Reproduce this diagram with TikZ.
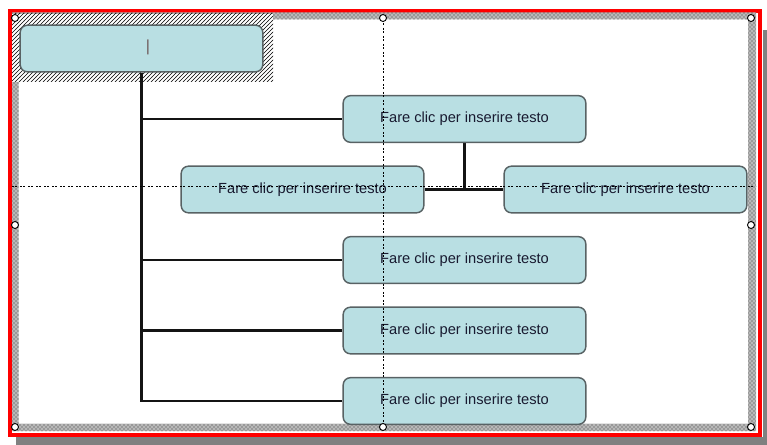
\documentclass[tikz,border=0pt]{standalone}
\usepackage{fontspec}
\setmainfont{Liberation Sans}
\usetikzlibrary{patterns}
\pgfdeclarelayer{back}
\pgfdeclarelayer{links}
\pgfsetlayers{back,links,main}

\begin{document}
\begin{tikzpicture}[x=0.75pt,y=0.75pt,yscale=-1,xscale=1,
  orgbox/.style={draw={rgb, 255:red, 88; green, 98; blue, 100 }, line width=1.1pt,
    fill={rgb, 255:red, 185; green, 223; blue, 227 }, rounded corners=5.5pt,
    minimum width=182pt, minimum height=35pt, inner sep=0pt,
    text={rgb, 255:red, 24; green, 26; blue, 48 }, font=\fontsize{11}{13}\selectfont},
  link/.style={draw={rgb, 255:red, 20; green, 20; blue, 20 }, line width=1.9pt},
  guide/.style={draw=black, line width=0.6pt, dash pattern=on 1.2pt off 1.2pt on 1.2pt off 2.4pt},
  handle/.style={draw=black, fill=white, line width=0.7pt}]
\useasboundingbox (0,0) rectangle (767,445);

\begin{pgfonlayer}{back}
%Shadow of the frame
\fill [color={rgb, 255:red, 128; green, 128; blue, 128 }] (16,437) rectangle (767,445);
\fill [color={rgb, 255:red, 128; green, 128; blue, 128 }] (763,30) rectangle (767,445);
%Red frame
\draw [color={rgb, 255:red, 255; green, 0; blue, 0 }, line width=3pt] (9.5,11) rectangle (759.5,434.5);
%Selection band
\fill [black!28, even odd rule] (12,12.5) rectangle (756,431) (18.5,19.5) rectangle (748,423.5);
\fill [pattern=crosshatch dots, pattern color=black!80, even odd rule] (12,12.5) rectangle (756,431) (18.5,19.5) rectangle (748,423.5);
%Hatched selection of the top box
\fill [white] (12,14) rectangle (273,82);
\fill [pattern=north east lines, pattern color=black] (12,14) rectangle (273,82);
\end{pgfonlayer}

%Boxes
\node [orgbox] (top) at (141.5,48.5) {};
\node [orgbox] (b1) at (464.5,119) {Fare clic per inserire testo};
\node [orgbox] (mL) at (302.5,189.5) {Fare clic per inserire testo};
\node [orgbox] (mR) at (625.5,189.5) {Fare clic per inserire testo};
\node [orgbox] (b2) at (464.5,260) {Fare clic per inserire testo};
\node [orgbox] (b3) at (464.5,330.5) {Fare clic per inserire testo};
\node [orgbox] (b4) at (464.5,401) {Fare clic per inserire testo};
\node [text={rgb, 255:red, 110; green, 90; blue, 90 }, font=\fontsize{12}{14}\selectfont] (caret) at (148,47.5) {|};

%Connectors
\begin{pgfonlayer}{links}
\draw [link] (top.south) |- (b1.west);
\draw [link] (top.south) |- (b2.west);
\draw [link] (top.south) |- (b3.west);
\draw [link] (top.south) |- (b4.west);
\draw [link] (b1.south) |- (mL.east);
\draw [link] (b1.south) |- (mR.west);
\end{pgfonlayer}

%Guides
\draw [guide] (383,20) -- (383,427);
\draw [guide] (12,186) -- (756,186);

%Handles
\draw [handle] (15,18) circle (3.5);
\draw [handle] (383,18) circle (3.5);
\draw [handle] (751,18) circle (3.5);
\draw [handle] (15,225) circle (3.5);
\draw [handle] (751,225) circle (3.5);
\draw [handle] (15,427) circle (3.5);
\draw [handle] (383,427) circle (3.5);
\draw [handle] (751,427) circle (3.5);

\end{tikzpicture}
\end{document}
